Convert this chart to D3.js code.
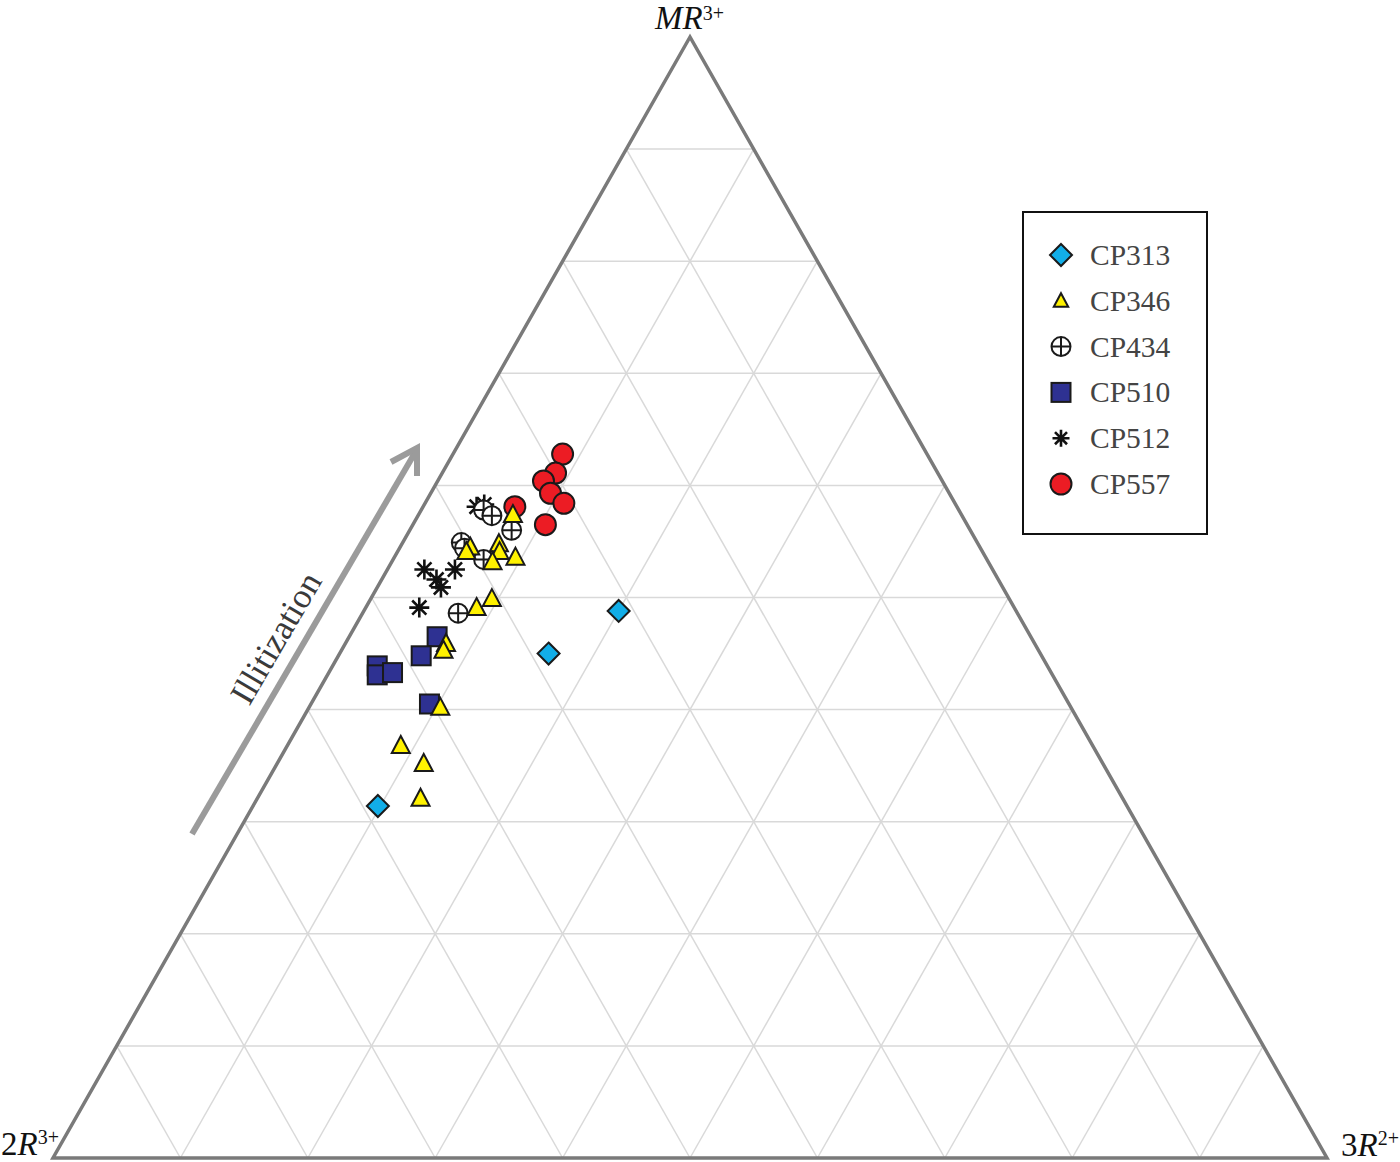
<!DOCTYPE html>
<html>
<head>
<meta charset="utf-8">
<script src="https://cdn.jsdelivr.net/npm/d3@7"></script>
<style>
  html, body { margin: 0; padding: 0; background: #fff; }
  svg { display: block; }
</style>
</head>
<body>
<svg id="chart" width="1400" height="1162"></svg>
<script>
// ---- DATA: ternary compositions in % [MR3+, 2R3+, 3R2+] ----
const seriesNames = ["CP313", "CP346", "CP434", "CP510", "CP512", "CP557"];
const gridTicks = [10, 20, 30, 40, 50, 60, 70, 80, 90];
const axisLabels = { top: ["MR", "3+"], left: ["2", "R", "3+"], right: ["3", "R", "2+"] };
const arrowLabel = "Illitization";

const cp313 = [[31.4, 58.8, 9.8], [45.0, 38.6, 16.4], [48.8, 31.2, 20.0]];
const cp346 = [[57.4, 35.2, 7.4], [54.5, 40.0, 5.5], [54.1, 40.5, 5.4], [54.8, 37.6, 7.6],
               [54.1, 37.9, 8.0], [53.6, 36.9, 9.5], [53.2, 38.9, 7.9], [49.9, 40.6, 9.5],
               [49.1, 42.2, 8.7], [45.9, 46.2, 7.9], [45.3, 46.7, 8.0], [40.2, 49.5, 10.3],
               [36.8, 54.3, 8.9], [35.2, 53.3, 11.5], [32.1, 55.1, 12.8]];
const cp434 = [[57.8, 37.3, 4.9], [57.3, 36.9, 5.8], [56.0, 36.0, 8.0], [54.9, 40.5, 4.6],
               [54.4, 40.5, 5.1], [53.4, 39.5, 7.1], [48.6, 43.9, 7.5]];
const cp510 = [[46.5, 46.6, 6.9], [44.8, 48.7, 6.5], [43.9, 52.6, 3.5], [43.1, 53.0, 3.9],
               [43.3, 51.7, 5.0], [40.5, 50.2, 9.3]];
const cp512 = [[58.1, 37.7, 4.2], [58.3, 37.0, 4.7], [54.6, 40.5, 4.9], [52.5, 44.6, 2.9],
               [52.5, 42.2, 5.3], [51.6, 44.1, 4.3], [50.9, 44.1, 5.0], [49.1, 46.7, 4.2]];
const cp557 = [[62.8, 28.6, 8.6], [61.1, 30.0, 8.9], [60.4, 31.3, 8.3], [59.3, 31.3, 9.4],
               [58.4, 30.7, 10.9], [56.5, 33.1, 10.4], [58.1, 34.7, 7.2]];

// ---- SCALES ----
const yS = d3.scaleLinear().domain([0, 100]).range([1158, 37]);   // MR3+ apex height
const xS = d3.scaleLinear().domain([0, 100]).range([53, 1327]);   // horizontal position
function px(mr, r2, r3) {
  const s = mr + r2 + r3;
  const a = mr / s * 100, c = r3 / s * 100;
  return [xS(c + a / 2), yS(a)];
}

const svg = d3.select("#chart");
const serif = "'Liberation Serif', 'Times New Roman', serif";

// ---- GRID ----
const grid = svg.append("g").attr("stroke", "#d9d9d9").attr("stroke-width", 1.5).attr("fill", "none");
gridTicks.forEach(k => {
  const segs = [
    [px(k, 100 - k, 0), px(k, 0, 100 - k)],      // constant MR
    [px(0, 100 - k, k), px(100 - k, 0, k)],      // constant 3R2+
    [px(0, k, 100 - k), px(100 - k, k, 0)]       // constant 2R3+
  ];
  segs.forEach(s => grid.append("line")
    .attr("x1", s[0][0]).attr("y1", s[0][1]).attr("x2", s[1][0]).attr("y2", s[1][1]));
});

// ---- TRIANGLE FRAME ----
const verts = [px(100, 0, 0), px(0, 100, 0), px(0, 0, 100)];
svg.append("path")
  .attr("d", d3.line()(verts) + "Z")
  .attr("fill", "none").attr("stroke", "#7a7a7a").attr("stroke-width", 3.5)
  .attr("stroke-linejoin", "miter");

// ---- AXIS LABELS ----
function label(x, y, parts, supDy) {
  const t = svg.append("text").attr("x", x).attr("y", y)
    .attr("font-family", serif).attr("font-size", 33).attr("fill", "#111");
  parts.forEach(p => {
    const ts = t.append("tspan").text(p.t);
    if (p.i) ts.attr("font-style", "italic");
    if (p.sup) ts.attr("font-size", 20).attr("dy", supDy);
  });
  return t;
}
label(655, 29, [{t: axisLabels.top[0], i: true}, {t: axisLabels.top[1], sup: true}], -9);
label(1, 1155, [{t: axisLabels.left[0]}, {t: axisLabels.left[1], i: true}, {t: axisLabels.left[2], sup: true}], -11);
label(1341, 1156, [{t: axisLabels.right[0]}, {t: axisLabels.right[1], i: true}, {t: axisLabels.right[2], sup: true}], -11);

// ---- ARROW ----
const arrowG = svg.append("g").attr("stroke", "#9b9b9b").attr("stroke-width", 6).attr("fill", "none");
arrowG.append("line").attr("x1", 192).attr("y1", 834).attr("x2", 416).attr("y2", 451);
arrowG.append("path").attr("d", "M391,462 L417,448 L417,476").attr("stroke-linejoin", "miter");
svg.append("text").text(arrowLabel)
  .attr("transform", "translate(276,638) rotate(-59.7)")
  .attr("text-anchor", "middle").attr("dominant-baseline", "central")
  .attr("font-family", serif).attr("font-size", 35).attr("fill", "#3a3a3a");

// ---- MARKERS ----
const stroke = "#1a1a1a";
const markers = {
  CP313: (g, s) => g.append("path").attr("d", `M0,${-11*s} L${11*s},0 L0,${11*s} L${-11*s},0Z`)
            .attr("fill", "#12aee8").attr("stroke", stroke).attr("stroke-width", 2),
  CP346: (g, s) => g.append("path").attr("d", `M0,${-9.5*s} L${9*s},${7.5*s} L${-9*s},${7.5*s}Z`)
            .attr("fill", "#fff200").attr("stroke", stroke).attr("stroke-width", 2).attr("stroke-linejoin", "miter"),
  CP434: (g, s) => {
    g.append("circle").attr("r", 9.5*s).attr("fill", "#fff").attr("stroke", stroke).attr("stroke-width", 2);
    g.append("path").attr("d", `M${-9.5*s},0 H${9.5*s} M0,${-9.5*s} V${9.5*s}`)
      .attr("stroke", stroke).attr("stroke-width", 2);
  },
  CP510: (g, s) => g.append("rect").attr("x", -9.5*s).attr("y", -9.5*s).attr("width", 19*s).attr("height", 19*s)
            .attr("fill", "#2e3192").attr("stroke", stroke).attr("stroke-width", 2),
  CP512: (g, s) => {
    const r = 10*s, d = r * Math.SQRT1_2;
    g.append("path").attr("d", `M${-r},0 H${r} M0,${-r} V${r} M${-d},${-d} L${d},${d} M${-d},${d} L${d},${-d}`)
      .attr("stroke", "#111").attr("stroke-width", 2.6).attr("fill", "none");
  },
  CP557: (g, s) => g.append("circle").attr("r", 10.5*s)
            .attr("fill", "#ec1c24").attr("stroke", stroke).attr("stroke-width", 2)
};

const dataBySeries = { CP313: cp313, CP346: cp346, CP434: cp434, CP510: cp510, CP512: cp512, CP557: cp557 };
const drawOrder = ["CP557", "CP512", "CP434", "CP510", "CP346", "CP313"];
const pts = svg.append("g");
drawOrder.forEach(name => {
  dataBySeries[name].forEach(d => {
    const [x, y] = px(d[0], d[1], d[2]);
    const g = pts.append("g").attr("transform", `translate(${x},${y})`);
    markers[name](g, 1);
  });
});

// ---- LEGEND ----
svg.append("rect").attr("x", 1023).attr("y", 212).attr("width", 184).attr("height", 322)
  .attr("fill", "#fff").attr("stroke", "#111").attr("stroke-width", 2);
const legendY = d3.scalePoint().domain(seriesNames).range([255, 484]);
seriesNames.forEach(name => {
  const g = svg.append("g").attr("transform", `translate(1061,${legendY(name)})`);
  markers[name](g, name === "CP346" ? 0.8 : (name === "CP512" ? 0.85 : 1));
  svg.append("text").text(name)
    .attr("x", 1090).attr("y", legendY(name) + 10)
    .attr("font-family", serif).attr("font-size", 29.5).attr("fill", "#444");
});
</script>
</body>
</html>
